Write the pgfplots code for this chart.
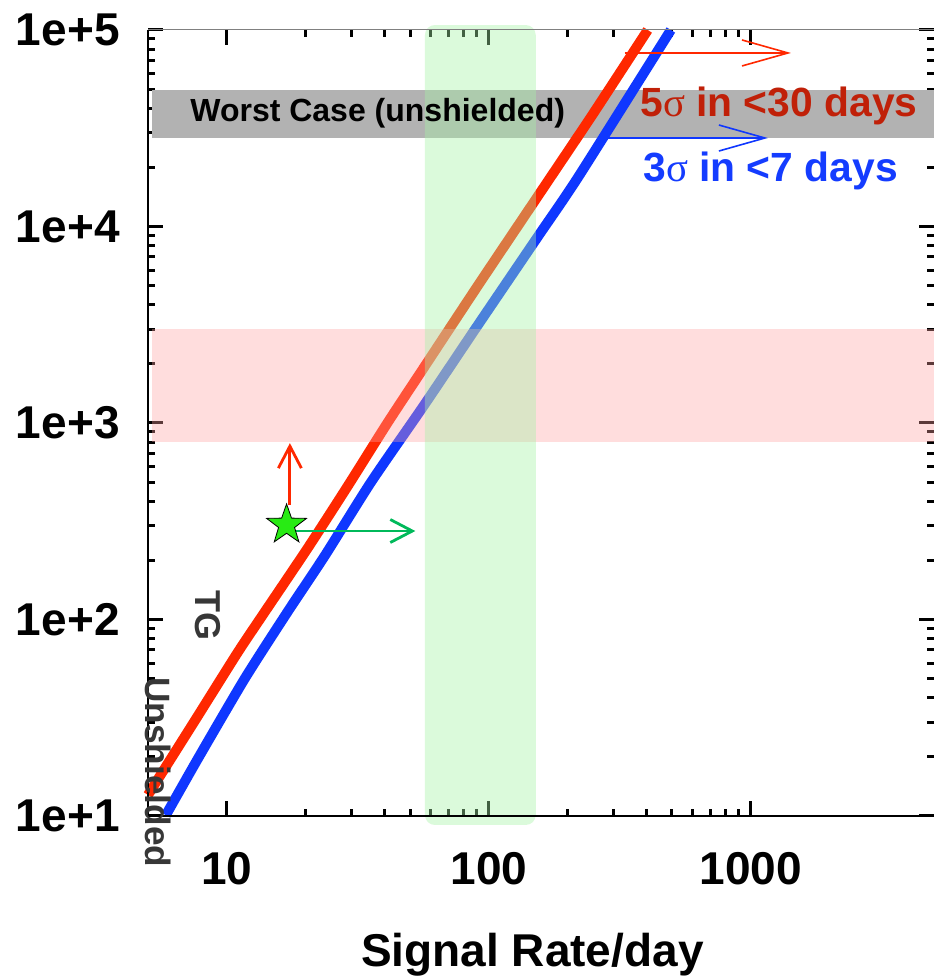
\documentclass[border=0pt]{standalone}
\usepackage{pgfplots}
\pgfplotsset{compat=1.18}
\usepackage{fontspec}
\setmainfont{Liberation Sans}
\newfontfamily\sigmafont{Liberation Serif}
\usetikzlibrary{arrows.meta}
\definecolor{cred}{RGB}{255,40,0}
\definecolor{cblue}{RGB}{15,55,255}
\definecolor{tred}{RGB}{192,32,8}
\definecolor{tblue}{RGB}{20,60,255}
\definecolor{cgreen}{RGB}{0,185,90}
\definecolor{bandpink}{RGB}{255,161,161}
\definecolor{bandgreen}{RGB}{166,242,166}
\definecolor{bandgray}{RGB}{178,178,178}
\definecolor{lblgray}{RGB}{55,55,55}
\definecolor{starg}{RGB}{40,235,20}
\pgfdeclareplotmark{fstar}{%
 \pgfpathmoveto{\pgfpointpolar{90}{\pgfplotmarksize}}%
 \pgfpathlineto{\pgfpointpolar{126}{0.4\pgfplotmarksize}}%
 \pgfpathlineto{\pgfpointpolar{162}{\pgfplotmarksize}}%
 \pgfpathlineto{\pgfpointpolar{198}{0.4\pgfplotmarksize}}%
 \pgfpathlineto{\pgfpointpolar{234}{\pgfplotmarksize}}%
 \pgfpathlineto{\pgfpointpolar{270}{0.4\pgfplotmarksize}}%
 \pgfpathlineto{\pgfpointpolar{306}{\pgfplotmarksize}}%
 \pgfpathlineto{\pgfpointpolar{342}{0.4\pgfplotmarksize}}%
 \pgfpathlineto{\pgfpointpolar{18}{\pgfplotmarksize}}%
 \pgfpathlineto{\pgfpointpolar{54}{0.4\pgfplotmarksize}}%
 \pgfpathclose
 \pgfusepathqfillstroke
}
\begin{document}
\begin{tikzpicture}
\useasboundingbox (0,0) rectangle (467pt,488pt);
\begin{axis}[
  at={(74pt,80pt)}, anchor=south west,
  scale only axis, width=393pt, height=393pt,
  xmode=log, ymode=log,
  xmin=5, xmax=5000, ymin=10, ymax=100000,
  clip=false,
  axis line style={draw=none},
  tick align=inside,
  every tick/.style={black, line width=1.5pt},
  major tick length=7.5pt, minor tick length=3.5pt,
  xtick={10,100,1000}, xticklabels={10,100,1000},
  ytick={10,100,1000,10000,100000},
  yticklabels={1e+1,1e+2,1e+3,1e+4,1e+5},
  xticklabel style={font=\bfseries\fontsize{23pt}{26pt}\selectfont, inner sep=0pt, anchor=north, yshift=-18pt},
  yticklabel style={font=\bfseries\fontsize{23pt}{26pt}\selectfont, inner sep=0pt, anchor=east, xshift=-14pt},
  xlabel={Signal Rate/day},
  xlabel style={font=\bfseries\fontsize{23pt}{26pt}\selectfont, anchor=base, at={(axis description cs:0.489,-0.191)}},
]
% worst case band
\addplot[draw=none, fill=bandgray] coordinates {(5.18,28200)(5000,28200)(5000,49500)(5.18,49500)} --cycle;
% sensitivity curves
\addplot[cred, line width=5pt, line join=round, smooth, tension=0.4] coordinates {
 (5,12.8)(7.6,31)(11.0,68)(14.0,110)(20.4,232)(29.0,480)(41,1000)(57.0,1950)(90.8,5000)(154,14300)(250,37500)(404,100000)};
\addplot[cblue, line width=5pt, line join=round, smooth, tension=0.4] coordinates {
 (5.85,10.1)(7.74,19.5)(11.7,50)(17.1,110)(23.7,212)(35.5,500)(57.0,1250)(90.8,3150)(154,8900)(219,17800)(495,100000)};
% pink band
\addplot[draw=none, fill=bandpink, fill opacity=0.36] coordinates {(5.18,800)(5000,800)(5000,3000)(5.18,3000)} --cycle;
% green band
\addplot[draw=none, fill=bandgreen, fill opacity=0.4, rounded corners=5pt] coordinates {(57,9.0)(151,9.0)(151,106000)(57,106000)} --cycle;
% arrows
\addplot[cred, line width=1.4pt, -{Straight Barb[length=11pt,width=11.5pt]}] coordinates {(17.4,383)(17.4,790)};
\addplot[cgreen, line width=1.4pt, -{Straight Barb[length=11pt,width=11.5pt]}] coordinates {(17.4,282)(52.4,282)};
\addplot[cred, line width=0.8pt, -{Straight Barb[length=23pt,width=13pt]}] coordinates {(330,76400)(1422,76400)};
\addplot[cblue, line width=0.8pt, -{Straight Barb[length=23pt,width=13pt]}] coordinates {(277,28200)(1161,28200)};
% star
\addplot[only marks, mark=fstar, mark size=10.5pt, mark options={fill=starg, draw=black, line width=0.4pt}] coordinates {(16.9,303)};
% frame
\draw[black, line width=0.6pt] (rel axis cs:1,0) -- (rel axis cs:0,0) -- (rel axis cs:0,1);
\draw[gray, line width=0.5pt] (rel axis cs:0,1) -- (rel axis cs:1,1);
\end{axis}
\node[anchor=base west, inner sep=0pt, font=\bfseries\fontsize{16pt}{18pt}\selectfont] at (95pt,427pt) {Worst Case (unshielded)};
\node[anchor=base west, inner sep=0pt, text=tred, font=\bfseries\fontsize{20.4pt}{24pt}\selectfont] at (320pt,429.5pt) {5{\sigmafont\mdseries σ} in <30 days};
\node[anchor=base west, inner sep=0pt, text=tblue, font=\bfseries\fontsize{20.4pt}{24pt}\selectfont] at (321.5pt,397pt) {3{\sigmafont\mdseries σ} in <7 days};
\node[anchor=base west, inner sep=0pt, rotate=-90, text=lblgray, font=\bfseries\fontsize{18pt}{20pt}\selectfont] at (97.5pt,193pt) {TG};
\node[anchor=base west, inner sep=0pt, rotate=-90, text=lblgray, font=\bfseries\fontsize{17.6pt}{20pt}\selectfont] at (72.5pt,149.5pt) {Unshielded};
\end{tikzpicture}
\end{document}
